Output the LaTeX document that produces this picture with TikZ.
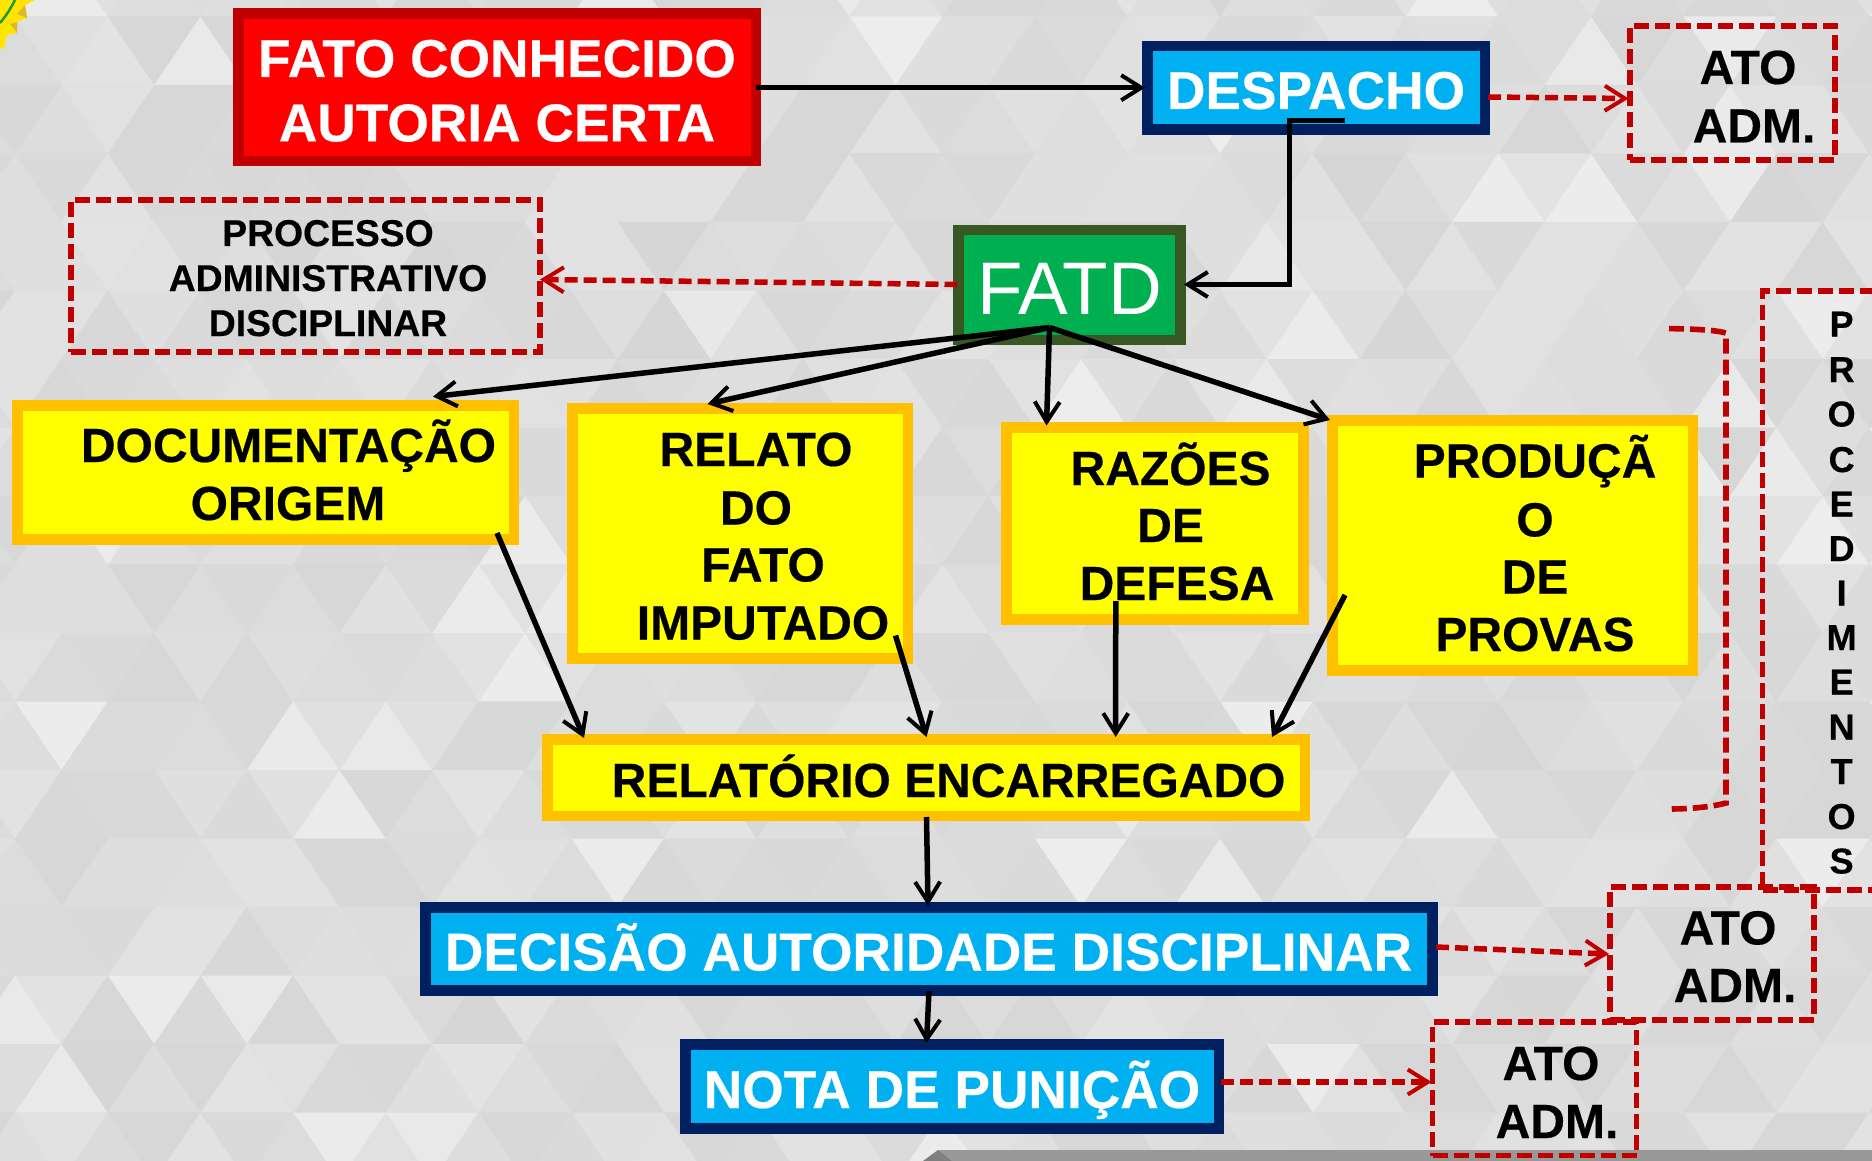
\documentclass[tikz,border=0pt]{standalone}
\usepackage{fontspec}
\setmainfont[BoldFeatures={FakeBold=0.35}]{Liberation Sans}
\usetikzlibrary{arrows.meta}
\definecolor{redfill}{HTML}{FF0000}
\definecolor{darkred}{HTML}{C00000}
\definecolor{bluefill}{HTML}{00B0F0}
\definecolor{navy}{HTML}{002060}
\definecolor{greenfill}{HTML}{00B050}
\definecolor{greenline}{HTML}{385723}
\definecolor{yellowfill}{HTML}{FFFF00}
\definecolor{amber}{HTML}{FFC000}
\definecolor{bandgray}{HTML}{999999}
\definecolor{banddark}{HTML}{7F7F7F}
\definecolor{basegray}{HTML}{DCDCDC}
\definecolor{stargold}{HTML}{FFE500}
\definecolor{starshade}{HTML}{E0B830}
\definecolor{stargreen}{HTML}{1E9A3C}
\tikzset{
  solidbox/.style={draw,line width=10.5pt,inner sep=0pt,outer sep=.5\pgflinewidth},
  redbox/.style={solidbox,draw=darkred,fill=redfill},
  bluebox/.style={solidbox,draw=navy,fill=bluefill},
  greenbox/.style={solidbox,draw=greenline,fill=greenfill},
  yellowbox/.style={solidbox,draw=amber,fill=yellowfill},
  dashbox/.style={draw=darkred,line width=5.6pt,dash pattern=on 15pt off 6pt,inner sep=0pt},
  txt/.style={anchor=base,inner sep=0pt,outer sep=0pt},
  big/.style={txt,font=\fontsize{53.3}{53.3}\selectfont\bfseries},
  mid/.style={txt,font=\fontsize{48}{48}\selectfont\bfseries},
  small/.style={txt,font=\fontsize{37.3}{37.3}\selectfont\bfseries},
  vert/.style={txt,font=\fontsize{36}{36}\selectfont\bfseries},
  flow/.style={draw=black,line width=5.5pt,-{Straight Barb[length=20pt,width=25pt,line width=4pt]}},
  redflow/.style={draw=darkred,line width=5.5pt,dash pattern=on 13pt off 6pt,-{Straight Barb[length=20pt,width=25pt,line width=4pt,color=darkred]}},
}
\begin{document}
\begin{tikzpicture}[x=1pt,y=-1pt]
\useasboundingbox (0,0) rectangle (1872,1161);
% background
\begin{scope}
\clip (0,0) rectangle (1872,1161);
\fill[basegray] (0,0) rectangle (1872,1161);
\pgfmathsetseed{4242}
\foreach \r in {-1,...,17}{
  \pgfmathsetmacro\ya{16.5+68.5*\r}
  \pgfmathsetmacro\yb{\ya+68.5}
  \pgfmathsetmacro\oa{mod(\r+2,2)==0 ? 15.15 : 61.5}
  \foreach \k in {-1,...,21}{
    \pgfmathsetmacro\xa{\oa+92.7*\k}
    \pgfmathsetmacro\xb{\xa+46.35}
    \pgfmathsetmacro\ga{rnd<0.07 ? 7+2*rnd : 11+5*rnd}
    \pgfmathsetmacro\gb{rnd<0.07 ? 7+2*rnd : 11+5*rnd}
    \fill[black!\ga!white] (\xa,\ya) -- (\xa+92.7,\ya) -- (\xb,\yb) -- cycle;
    \fill[black!\gb!white] (\xa+92.7,\ya) -- (\xb,\yb) -- (\xb+92.7,\yb) -- cycle;
  }
}
% emblem corner
\fill[stargold] (0,0) -- (35,0) -- (25,5) -- (27,18) -- (17,22) -- (17,33) -- (7,35) -- (4,49) -- (0,48) -- cycle;
\fill[starshade] (25,5) -- (27,18) -- (17,14) -- cycle;
\fill[starshade] (17,22) -- (17,33) -- (10,24) -- cycle;
\draw[stargreen,line width=2.5pt] (15,0) .. controls (11,8) and (6,16) .. (0,23);
% bottom band
\fill[banddark] (923,1161) -- (938,1150) -- (960,1161) -- cycle;
\fill[bandgray] (938,1150) -- (1872,1150) -- (1872,1161) -- (952,1161) -- cycle;
\end{scope}
% boxes
\node[redbox,minimum width=517.5pt,minimum height=147.5pt] (fato) at (497,87.5) {};
\node[bluebox,minimum width=337.5pt,minimum height=83.5pt] (desp) at (1316,88) {};
\node[greenbox,minimum width=222pt,minimum height=109.5pt] (fatd) at (1069.25,285) {};
\node[yellowbox,minimum width=496.5pt,minimum height=134.1pt] (doc) at (265.5,472.3) {};
\node[yellowbox,minimum width=335.5pt,minimum height=250.1pt] (relato) at (740,533.3) {};
\node[yellowbox,minimum width=297pt,minimum height=192pt] (razoes) at (1154.75,523.25) {};
\node[yellowbox,minimum width=360.5pt,minimum height=250pt] (prod) at (1512.5,545.25) {};
\node[yellowbox,minimum width=757.5pt,minimum height=76.5pt] (relat) at (926,777.5) {};
\node[bluebox,minimum width=1007pt,minimum height=83pt] (decis) at (928.75,948.75) {};
\node[bluebox,minimum width=533.5pt,minimum height=84pt] (nota) at (952,1086.25) {};
\node[dashbox,minimum width=205pt,minimum height=134pt] (ato1) at (1732.25,93) {};
\node[dashbox,minimum width=469pt,minimum height=152pt] (proc) at (305.5,276) {};
\node[dashbox,minimum width=187pt,minimum height=599pt] (procd) at (1856,590.5) {};
\node[dashbox,minimum width=204pt,minimum height=133pt] (ato2) at (1712,953.5) {};
\node[dashbox,minimum width=204pt,minimum height=133.5pt] (ato3) at (1534.5,1088.75) {};
% bracket
\coordinate (brkT) at (1669,328.6);
\coordinate (brkB) at (1669,809);
\draw[draw=darkred,line width=5.6pt,dash pattern=on 15pt off 6pt] (brkT) .. controls (1695,329) and (1715,330) .. (1726,333) -- (1726,803) .. controls (1715,806) and (1695,809) .. (brkB);
% texts
\node[big,text=white] (t1) at (497,77) {FATO CONHECIDO};
\node[big,text=white] (t2) at (497,141.4) {AUTORIA CERTA};
\node[big,text=white] (t3) at (1316,109) {DESPACHO};
\node[txt,text=white,font=\fontsize{74.5}{74.5}\selectfont] (t4) at (1069.5,314.5) {FATD};
\node[mid] (t5) at (1748,84) {ATO};
\node[mid] (t6) at (1754,142.5) {ADM.};
\node[small] (t7) at (328,246) {PROCESSO};
\node[small] (t8) at (328,291) {ADMINISTRATIVO};
\node[small] (t9) at (328,336) {DISCIPLINAR};
\node[mid] (t10) at (288.5,462) {DOCUMENTAÇÃO};
\node[mid] (t11) at (288,520) {ORIGEM};
\node[mid] (t12) at (756,466) {RELATO};
\node[mid] (t13) at (756,524.5) {DO};
\node[mid] (t14) at (763,581.5) {FATO};
\node[mid] (t15) at (763,639.5) {IMPUTADO};
\node[mid] (t16) at (1170.6,485) {RAZÕES};
\node[mid] (t17) at (1170.6,542) {DE};
\node[mid] (t18) at (1177,600) {DEFESA};
\node[mid] (t19) at (1535,477.5) {PRODUÇÃ};
\node[mid] (t20) at (1535,536.4) {O};
\node[mid] (t21) at (1535,593.5) {DE};
\node[mid] (t22) at (1535,651) {PROVAS};
\node[mid] (t23) at (948.6,797) {RELATÓRIO ENCARREGADO};
\node[big,text=white] (t24) at (928.5,970.5) {DECISÃO AUTORIDADE DISCIPLINAR};
\node[big,text=white] (t25) at (952,1108) {NOTA DE PUNIÇÃO};
\node[mid] (t26) at (1728,944.5) {ATO};
\node[mid] (t27) at (1735,1002) {ADM.};
\node[mid] (t28) at (1551,1080) {ATO};
\node[mid] (t29) at (1557,1138) {ADM.};
\node[vert] (v1) at (1841.6,336.5) {P};
\node[vert] (v2) at (1841.6,382) {R};
\node[vert] (v3) at (1841.6,426.5) {O};
\node[vert] (v4) at (1841.6,472) {C};
\node[vert] (v5) at (1841.6,516.5) {E};
\node[vert] (v6) at (1841.6,561) {D};
\node[vert] (v7) at (1841.6,605.5) {I};
\node[vert] (v8) at (1841.6,650) {M};
\node[vert] (v9) at (1841.6,694.5) {E};
\node[vert] (v10) at (1841.6,739.5) {N};
\node[vert] (v11) at (1841.6,784) {T};
\node[vert] (v12) at (1841.6,829) {O};
\node[vert] (v13) at (1841.6,873.5) {S};
% connectors
\draw[flow] ([shift={(259,0.2)}]fato.center) -- ([shift={(-171,-0.3)}]desp.center);
\draw[flow] ([shift={(29,32.6)}]desp.center) -- ([shift={(-26.5,32.6)}]desp.center) |- ([shift={(114.75,-0.5)}]fatd.center);
\draw[redflow] ([shift={(172,9)}]desp.center) -- ([shift={(-103.75,5.5)}]ato1.center);
\draw[redflow] ([shift={(-111.75,-0.5)}]fatd.center) -- ([shift={(234.5,3.5)}]proc.center);
\draw[flow] ([shift={(-19.75,42.5)}]fatd.center) -- ([shift={(167.5,-75.7)}]doc.center);
\draw[flow] ([shift={(-19.75,42.5)}]fatd.center) -- ([shift={(-32.5,-129.3)}]relato.center);
\draw[flow] ([shift={(-19.75,42.5)}]fatd.center) -- ([shift={(-108.25,-97.75)}]razoes.center);
\draw[flow] ([shift={(-19.75,42.5)}]fatd.center) -- ([shift={(-182.5,-125.25)}]prod.center);
\draw[flow] ([shift={(231.5,60.7)}]doc.center) -- ([shift={(-342,-39.5)}]relat.center);
\draw[flow] ([shift={(155.5,102.2)}]relato.center) -- ([shift={(0.5,-40.5)}]relat.center);
\draw[flow] ([shift={(-39,77.75)}]razoes.center) -- ([shift={(189.7,-40.5)}]relat.center);
\draw[flow] ([shift={(-167.5,49.75)}]prod.center) -- ([shift={(346,-40.5)}]relat.center);
\draw[flow] ([shift={(0.5,39.5)}]relat.center) -- ([shift={(-0.75,-43.15)}]decis.center);
\draw[flow] ([shift={(0.25,42.25)}]decis.center) -- ([shift={(-25.5,-43.25)}]nota.center);
\draw[redflow] ([shift={(507.25,-1.75)}]decis.center) -- ([shift={(-103,0.5)}]ato2.center);
\draw[redflow] ([shift={(269,-4.25)}]nota.center) -- ([shift={(-103,-6.75)}]ato3.center);
\end{tikzpicture}
\end{document}
